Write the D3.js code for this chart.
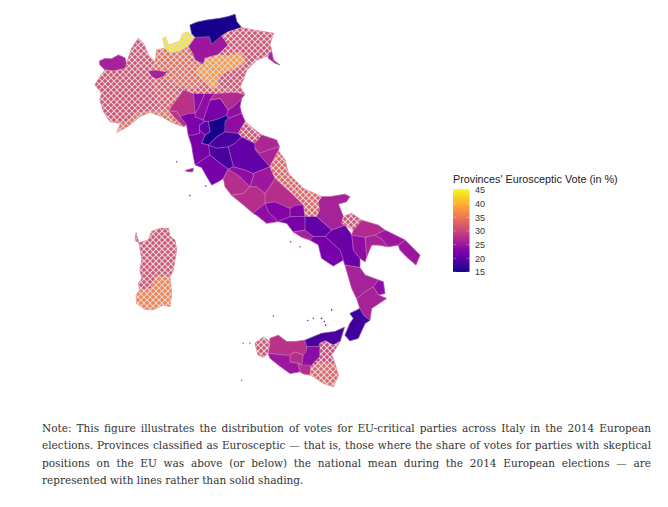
<!DOCTYPE html>
<html>
<head>
<meta charset="utf-8">
<script src="https://cdn.jsdelivr.net/npm/d3@7"></script>
<style>
  html, body { margin: 0; padding: 0; background: #fff; }
</style>
</head>
<body>
<div id="chart"></div>
<script>
// province names, vote share in % and eurosceptic flag, same order as the outlines
var provinceNames = ["Aosta","Torino","Liguria","Sondrio","Bergamo","Milano","Pavia-Cremona","Verona-Padova","Trento","Bolzano","Belluno-Udine","Trieste",
  "Parma","La Spezia","Reggio Emilia","Modena","Bologna","Ravenna","Forli","Pesaro","Firenze","Prato","Lucca","Pisa-Grosseto","Arezzo","Perugia","Ancona","Macerata","Ascoli","Terni-Rieti",
  "Viterbo","Roma","Tivoli","L'Aquila","Abruzzo","Teramo","Lazio Sud","Latina","Isernia","Benevento","Caserta","Napoli","Avellino","Salerno","Potenza",
  "Foggia","Barletta","Bari","Matera","Taranto Ovest","Taranto","Lecce","Cosenza","Crotone","Catanzaro","Reggio Calabria",
  "Trapani","Palermo","Agrigento","Caltanissetta","Ragusa","Messina","Enna","Catania","Siracusa","Sassari","Cagliari","Elba"];

var provinceVotes = [26,31,34,44,34,26,32,38,25,15.5,31,26,
  28,28,23.5,24,22,27,24,24,15.5,20,22.5,22,18.5,18.5,31,26.5,26,20.5,
  22,27.5,24,25,33,27.5,27.5,24,23,23,22,26,20.5,22,21,
  26,31,27,24,26,25,25,26,24,26,18,
  31,28,25,27.5,27.5,18.5,23.5,30,33,31,36,25];

var hatchedProvinces = ["Torino","Liguria","Sondrio","Bergamo","Pavia-Cremona","Verona-Padova","Belluno-Udine","Ancona","Abruzzo","Barletta","Trapani","Catania","Siracusa","Sassari","Cagliari"];

// outlines as [lon, lat]
var provinceOutlines = [
  [[6.79,45.77],[7.00,45.84],[7.24,45.83],[7.49,45.94],[7.73,45.86],[7.79,45.70],[7.73,45.56],[7.30,45.49],[7.00,45.52],[6.81,45.66]],
  [[7.79,45.70],[7.98,46.13],[8.22,46.41],[8.41,46.27],[8.59,45.94],[8.84,45.75],[8.59,45.49],[8.71,45.33],[8.77,45.24],[8.90,44.82],[9.08,44.37],[8.53,44.35],[8.16,44.30],[7.92,44.11],[7.57,44.02],[7.18,44.07],[6.94,44.35],[6.81,44.67],[6.87,44.86],[6.63,45.10],[6.81,45.33],[7.00,45.52],[7.30,45.49],[7.73,45.56]],
  [[7.43,43.76],[7.57,44.02],[7.92,44.11],[8.16,44.30],[8.53,44.35],[9.08,44.37],[9.33,44.37],[9.57,44.16],[9.88,43.93],[9.51,44.02],[9.08,44.21],[8.65,44.33],[8.28,44.21],[7.92,43.97]],
  [[9.11,46.41],[9.24,46.45],[9.33,46.22],[9.75,46.33],[9.85,46.55],[10.06,46.58],[10.31,46.43],[10.06,46.17],[9.69,46.03],[9.39,45.99],[9.20,46.13]],
  [[8.84,45.75],[8.90,46.08],[9.20,46.13],[9.39,45.99],[9.69,46.03],[10.06,46.17],[10.22,45.99],[10.31,45.80],[10.61,45.68],[10.43,45.61],[10.37,45.42],[10.67,45.24],[10.25,45.00],[9.63,45.10],[9.33,45.19],[9.14,45.33],[9.33,45.52],[9.20,45.47],[8.84,45.52],[8.59,45.49]],
  [[8.59,45.49],[8.84,45.52],[9.20,45.47],[9.33,45.52],[9.14,45.33],[8.90,45.26],[8.71,45.33]],
  [[8.71,45.33],[8.90,45.26],[9.14,45.33],[9.33,45.19],[9.63,45.10],[10.25,45.00],[10.67,45.24],[10.92,45.02],[11.16,45.05],[12.14,44.83],[11.84,44.89],[11.04,44.86],[10.67,44.86],[10.25,44.86],[9.88,44.96],[9.33,44.37],[9.08,44.37],[8.90,44.82],[8.77,45.24]],
  [[10.43,45.61],[10.61,45.68],[10.67,45.85],[11.16,45.95],[11.53,45.92],[11.96,46.03],[12.18,45.75],[11.84,45.56],[11.47,45.47],[11.16,45.33],[11.16,45.05],[10.92,45.02],[10.67,45.24],[10.37,45.42]],
  [[10.31,46.43],[10.83,46.45],[10.92,46.24],[11.29,46.48],[11.53,46.22],[11.16,45.95],[10.67,45.85],[10.61,45.68],[10.31,45.80],[10.22,45.99],[10.06,46.17]],
  [[10.12,46.78],[10.37,46.86],[10.74,46.92],[11.23,46.97],[11.53,47.02],[11.78,47.08],[11.84,46.88],[12.02,46.71],[11.53,46.59],[11.29,46.48],[10.92,46.24],[10.83,46.45],[10.31,46.43],[10.18,46.55]],
  [[11.53,46.22],[11.29,46.48],[11.53,46.59],[12.02,46.71],[12.45,46.64],[13.19,46.55],[13.06,46.24],[13.12,46.08],[13.06,45.94],[12.57,45.80],[12.21,45.52],[12.08,45.24],[11.96,45.05],[12.14,44.83],[11.16,45.05],[11.16,45.33],[11.47,45.47],[11.84,45.56],[12.18,45.75],[11.96,46.03],[11.53,45.92],[11.16,45.95]],
  [[13.00,45.96],[13.12,46.05],[13.19,45.80],[13.43,45.66],[13.25,45.71],[13.00,45.85]],
  [[9.88,44.96],[10.25,44.86],[10.31,44.30],[10.06,44.30],[9.76,44.21],[9.63,44.35],[9.33,44.37]],
  [[9.33,44.37],[9.63,44.35],[9.76,44.21],[10.00,43.97],[9.88,43.93],[9.57,44.16]],
  [[10.25,44.86],[10.67,44.86],[10.43,44.44],[10.31,44.30]],
  [[10.67,44.86],[11.04,44.86],[10.86,44.67],[10.61,44.11],[10.31,44.20],[10.31,44.30],[10.43,44.44]],
  [[10.86,44.67],[11.23,44.72],[11.53,44.39],[11.47,44.25],[11.10,44.13],[10.80,44.07],[10.67,44.07],[10.61,44.11]],
  [[11.04,44.86],[11.84,44.89],[12.14,44.83],[12.02,44.72],[11.78,44.53],[11.53,44.39],[11.23,44.72],[10.86,44.67]],
  [[11.53,44.39],[11.78,44.53],[12.02,44.72],[11.96,44.49],[12.02,44.30],[11.53,44.16],[11.47,44.25]],
  [[11.53,44.16],[12.02,44.30],[12.15,44.07],[11.90,43.74],[11.41,43.78],[11.41,44.07]],
  [[11.10,44.13],[11.47,44.25],[11.53,44.16],[11.41,44.07],[11.41,43.78],[11.10,43.64],[10.80,43.41],[10.55,43.46],[10.67,43.69],[10.86,43.78],[10.80,44.07]],
  [[10.47,43.97],[10.67,44.07],[10.80,44.07],[10.86,43.78],[10.67,43.69],[10.47,43.83]],
  [[9.76,44.21],[10.06,44.30],[10.31,44.30],[10.31,44.20],[10.61,44.11],[10.67,44.07],[10.47,43.97],[10.47,43.83],[10.47,43.74],[10.25,43.69],[10.06,43.69],[10.00,43.97]],
  [[10.06,43.69],[10.25,43.69],[10.47,43.74],[10.47,43.83],[10.67,43.69],[10.55,43.46],[10.80,43.41],[10.86,43.13],[10.67,43.04],[10.31,42.85],[10.25,43.08],[10.18,43.41]],
  [[11.41,43.78],[11.90,43.74],[12.02,43.64],[11.78,43.46],[11.53,43.36],[11.10,43.32],[10.80,43.41],[11.10,43.64]],
  [[10.80,43.41],[11.10,43.32],[11.53,43.36],[11.72,42.80],[11.53,42.73],[11.16,42.94],[10.86,43.13]],
  [[12.15,44.07],[12.51,43.83],[12.76,43.69],[12.51,43.46],[12.02,43.64],[11.90,43.74]],
  [[12.76,43.69],[13.31,43.55],[13.41,43.36],[13.00,43.27],[12.70,43.18],[12.51,43.32],[12.51,43.46]],
  [[12.51,43.32],[12.70,43.18],[13.00,43.27],[13.41,43.36],[13.37,43.25],[13.06,42.80],[12.57,43.22]],
  [[12.02,43.64],[12.51,43.46],[12.51,43.32],[12.57,43.22],[13.06,42.80],[12.45,42.61],[12.14,42.71],[11.72,42.80],[11.53,43.36],[11.78,43.46]],
  [[10.67,43.04],[10.86,43.13],[11.16,42.94],[11.53,42.73],[11.35,42.47],[11.16,42.38],[10.92,42.29],[10.74,42.52],[10.55,42.78],[10.31,42.85]],
  [[11.35,42.47],[11.53,42.73],[11.96,42.52],[12.33,42.24],[12.08,42.05],[11.65,42.00],[11.41,42.24]],
  [[11.53,42.73],[11.72,42.80],[12.14,42.71],[12.45,42.61],[12.45,42.52],[12.33,42.24],[11.96,42.52]],
  [[12.45,42.61],[13.06,42.80],[13.25,42.47],[13.06,42.24],[12.88,42.05],[12.57,42.24],[12.33,42.24],[12.45,42.52]],
  [[13.37,43.25],[13.62,42.99],[13.74,42.61],[14.29,42.19],[14.96,41.96],[14.84,41.82],[14.88,41.58],[14.78,41.40],[14.35,41.40],[14.29,41.73],[13.92,42.01],[13.25,42.47],[13.06,42.80]],
  [[13.25,42.47],[13.92,42.01],[14.29,41.73],[13.98,41.72],[13.80,41.63],[13.25,41.82],[12.88,41.77],[12.88,42.05],[13.06,42.24]],
  [[12.33,42.24],[12.57,42.24],[12.88,42.05],[12.88,41.77],[12.57,41.58],[12.45,41.49],[12.08,41.73],[11.65,42.00],[12.08,42.05]],
  [[12.57,41.58],[12.88,41.77],[13.00,41.53],[13.37,41.26],[12.94,41.21],[12.57,41.44],[12.45,41.49]],
  [[12.88,41.77],[13.25,41.82],[13.80,41.63],[13.80,41.40],[13.37,41.26],[13.00,41.53]],
  [[13.80,41.63],[13.98,41.72],[14.29,41.73],[14.35,41.40],[13.80,41.40]],
  [[13.37,41.26],[13.80,41.40],[14.35,41.40],[14.35,41.02],[13.92,40.97],[13.68,41.21]],
  [[13.92,40.97],[14.35,41.02],[14.66,40.84],[14.53,40.74],[14.23,40.82]],
  [[14.35,41.40],[14.78,41.40],[15.21,41.11],[15.33,41.02],[15.09,40.84],[14.66,40.84],[14.35,41.02]],
  [[14.66,40.84],[15.09,40.84],[15.64,40.46],[15.76,40.18],[15.39,40.01],[14.96,40.23],[14.84,40.61],[14.53,40.74]],
  [[15.33,41.02],[15.82,41.16],[16.07,40.88],[16.13,40.46],[16.37,40.23],[16.37,39.97],[15.82,40.04],[15.76,40.18],[15.64,40.46],[15.09,40.84]],
  [[14.96,41.96],[15.27,41.96],[15.82,42.03],[16.00,41.96],[15.88,41.82],[15.58,41.75],[15.76,41.40],[15.70,41.21],[15.82,41.16],[15.33,41.02],[15.21,41.11],[14.78,41.40],[14.88,41.58],[14.84,41.82]],
  [[15.76,41.40],[16.07,41.49],[16.43,41.30],[16.13,41.02],[15.82,41.16],[15.70,41.21]],
  [[16.43,41.30],[17.05,41.16],[17.29,41.02],[16.92,40.88],[16.56,40.82],[16.07,40.88],[16.13,41.02]],
  [[16.07,40.88],[16.56,40.82],[16.62,40.27],[16.56,40.13],[16.37,40.23],[16.13,40.46]],
  [[16.56,40.82],[16.92,40.88],[17.17,40.77],[17.41,40.55],[17.05,40.60],[16.80,40.60],[16.62,40.27]],
  [[17.29,41.02],[18.03,40.74],[17.78,40.60],[17.41,40.55],[17.17,40.77],[16.92,40.88]],
  [[17.78,40.60],[18.03,40.74],[18.58,40.32],[18.43,40.04],[18.08,40.27],[17.84,40.46]],
  [[15.82,40.04],[16.37,39.97],[16.56,39.76],[17.05,39.62],[16.86,39.43],[16.56,39.29],[16.25,39.10],[16.07,39.38]],
  [[17.05,39.62],[17.23,39.57],[17.29,39.24],[17.05,39.20],[16.86,39.43]],
  [[16.25,39.10],[16.56,39.29],[16.86,39.43],[17.05,39.20],[17.35,39.10],[17.17,39.01],[16.80,38.82],[16.74,38.49],[16.50,38.63],[16.37,38.82]],
  [[16.37,38.82],[16.50,38.63],[16.74,38.49],[16.56,38.40],[16.31,37.98],[16.00,37.91],[15.82,38.07],[16.00,38.40],[16.13,38.54],[16.00,38.68]],
  [[12.51,37.84],[12.82,38.01],[13.06,37.89],[13.00,37.56],[12.82,37.45],[12.63,37.51]],
  [[13.06,37.89],[13.06,37.98],[13.37,38.07],[13.68,37.89],[13.98,37.89],[14.35,37.93],[14.41,37.75],[14.41,37.65],[14.29,37.51],[13.98,37.60],[13.80,37.51],[13.62,37.51],[13.00,37.56]],
  [[13.00,37.56],[13.62,37.51],[13.80,37.51],[13.80,37.32],[14.10,37.28],[14.17,37.04],[13.80,36.99],[13.37,37.23],[13.06,37.42]],
  [[13.80,37.51],[13.98,37.60],[14.29,37.51],[14.23,37.23],[14.10,37.28],[13.80,37.32]],
  [[14.23,37.23],[14.53,37.23],[14.57,37.18],[14.53,36.95],[14.29,36.98],[14.17,37.04],[14.10,37.28]],
  [[14.35,37.93],[14.96,38.12],[15.45,38.17],[15.80,38.29],[15.64,37.89],[15.39,37.79],[15.09,37.91],[14.90,37.84],[14.84,37.75],[14.41,37.75]],
  [[14.41,37.75],[14.84,37.75],[14.90,37.84],[14.90,37.46],[14.66,37.28],[14.57,37.18],[14.53,37.23],[14.23,37.23],[14.29,37.51],[14.41,37.65]],
  [[14.90,37.84],[15.09,37.91],[15.39,37.79],[15.64,37.89],[15.33,37.51],[15.45,37.28],[14.96,37.28],[14.57,37.18],[14.66,37.28],[14.90,37.46]],
  [[14.57,37.18],[14.96,37.28],[15.45,37.28],[15.58,36.95],[15.39,36.62],[15.02,36.72],[14.66,36.90],[14.53,36.95]],
  [[8.14,40.95],[8.10,40.72],[8.28,40.67],[8.59,40.74],[8.71,40.98],[9.02,41.07],[9.33,41.07],[9.39,40.84],[9.57,40.74],[9.63,40.46],[9.57,40.18],[9.51,39.90],[9.39,39.71],[8.84,39.71],[8.71,39.38],[8.28,39.34],[8.22,39.52],[8.35,39.66],[8.28,39.90],[8.35,40.18],[8.28,40.55]],
  [[8.84,39.71],[9.39,39.71],[9.45,39.24],[9.39,38.87],[9.14,38.92],[8.77,38.78],[8.47,38.79],[8.16,38.96],[8.14,39.20],[8.28,39.34],[8.71,39.38]],
  [[9.94,42.69],[10.10,42.73],[10.25,42.76],[10.22,42.66],[10.05,42.66]]
];

// very small islands: lon, lat, vote
var islandLons = [9.63,10.12,10.70,13.82,14.17,12.02,13.19,14.45,14.66,14.96,15.06,15.11,15.33,12.08,12.33];
var islandLats = [42.94,41.99,42.26,40.69,40.55,36.80,38.61,38.48,38.54,38.54,38.45,38.35,38.78,37.84,37.84];
var islandVotes = [26,24,24,27,28,31,30,26,26,24,24,24,24,31,31];

var legendTicks = [15,20,25,30,35,40,45];
var legendTitle = "Provinces' Eurosceptic Vote (in %)";
var noteLines = [
  "Note: This figure illustrates the distribution of votes for EU-critical parties across Italy in the 2014 European",
  "elections. Provinces classified as Eurosceptic \u2014 that is, those where the share of votes for parties with skeptical",
  "positions on the EU was above (or below) the national mean during the 2014 European elections \u2014 are",
  "represented with lines rather than solid shading."
];

var width = 668, height = 507;
var svg = d3.select('#chart').append('svg')
    .attr('width', width)
    .attr('height', height)
    .style('display', 'block');

var lonScale = d3.scaleLinear().domain([6.63, 18.52]).range([95, 418.4]);
var latScale = d3.scaleLinear().domain([47.09, 36.65]).range([14, 385.7]);
var color = d3.scaleSequential(d3.interpolatePlasma).domain([15, 45]);

var line = d3.line()
    .x(function(d){ return lonScale(d[0]); })
    .y(function(d){ return latScale(d[1]); })
    .curve(d3.curveLinearClosed);

var defs = svg.append('defs');

defs.append('filter').attr('id', 'soft')
    .append('feGaussianBlur').attr('stdDeviation', 0.4);

var map = svg.append('g').attr('filter', 'url(#soft)');

var provinces = provinceNames.map(function(name, i){
    return {name: name, vote: provinceVotes[i], outline: provinceOutlines[i]};
});
var hatchedData = provinces.filter(function(d){ return hatchedProvinces.indexOf(d.name) >= 0; });

map.append('g').selectAll('path')
    .data(provinces)
    .enter()
    .append('path')
    .attr('d', function(d){ return line(d.outline); })
    .attr('fill', function(d){ return color(d.vote); })
    .attr('stroke', function(d){ return color(d.vote); })
    .attr('stroke-width', 0.6);

// crosshatch over the eurosceptic provinces: diagonal lines clipped to their outlines
defs.append('clipPath').attr('id', 'hatchClip')
    .selectAll('path')
    .data(hatchedData)
    .enter()
    .append('path')
    .attr('d', function(d){ return line(d.outline); });

var hatchStep = 6;
var hatchOffsets = d3.range(-height, width + height, hatchStep);
var hatchGroup = map.append('g').attr('clip-path', 'url(#hatchClip)');
hatchGroup.selectAll('line.down')
    .data(hatchOffsets)
    .enter()
    .append('line')
    .attr('class', 'down')
    .attr('x1', function(d){ return d; }).attr('y1', 0)
    .attr('x2', function(d){ return d + height; }).attr('y2', height);
hatchGroup.selectAll('line.up')
    .data(hatchOffsets)
    .enter()
    .append('line')
    .attr('class', 'up')
    .attr('x1', function(d){ return d; }).attr('y1', 0)
    .attr('x2', function(d){ return d - height; }).attr('y2', height);
hatchGroup.selectAll('line')
    .attr('stroke', '#ded6da')
    .attr('stroke-width', 1.2);

map.append('g').selectAll('path')
    .data(provinces)
    .enter()
    .append('path')
    .attr('d', function(d){ return line(d.outline); })
    .attr('fill', 'none')
    .attr('stroke', '#d9b8cf')
    .attr('stroke-opacity', 0.5)
    .attr('stroke-width', 0.45);

map.append('g').selectAll('circle')
    .data(islandLons)
    .enter()
    .append('circle')
    .attr('cx', function(d){ return lonScale(d); })
    .attr('cy', function(d, i){ return latScale(islandLats[i]); })
    .attr('r', 0.8)
    .attr('fill', function(d, i){ return color(islandVotes[i]); });

// colour bar legend
var barY = d3.scaleLinear().domain([45, 15]).range([190, 272]);
var grad = defs.append('linearGradient')
    .attr('id', 'bar')
    .attr('x1', 0).attr('x2', 0).attr('y1', 1).attr('y2', 0);
grad.selectAll('stop')
    .data(d3.range(15, 45.5, 1))
    .enter()
    .append('stop')
    .attr('offset', function(d){ return (d - 15) / 30; })
    .attr('stop-color', function(d){ return color(d); });

var legend = svg.append('g');
legend.append('text')
    .attr('x', 453)
    .attr('y', 183)
    .style('font-family', '"Liberation Sans", Arial, sans-serif')
    .style('font-size', '10.8px')
    .attr('fill', '#222')
    .text(legendTitle);

legend.append('rect')
    .attr('x', 453)
    .attr('y', barY(45) - 1)
    .attr('width', 16.5)
    .attr('height', barY(15) - barY(45) + 1)
    .attr('fill', 'url(#bar)');

legend.selectAll('line.tick')
    .data(legendTicks)
    .enter()
    .append('path')
    .attr('d', function(d){
        var y = barY(d);
        return 'M453,' + y + 'h3.3M466.2,' + y + 'h3.3';
    })
    .attr('stroke', '#fff')
    .attr('stroke-opacity', 0.6)
    .attr('stroke-width', 0.5);

legend.selectAll('text.tick')
    .data(legendTicks)
    .enter()
    .append('text')
    .attr('class', 'tick')
    .attr('x', 475)
    .attr('y', function(d){ return barY(d) + 3.2; })
    .style('font-family', '"Liberation Sans", Arial, sans-serif')
    .style('font-size', '9px')
    .attr('fill', '#333')
    .text(function(d){ return d; });

// note, justified by hand except the last line
var noteLeft = 42, noteRight = 651;
var note = svg.append('g');
note.selectAll('text')
    .data(noteLines)
    .enter()
    .append('text')
    .attr('x', noteLeft)
    .attr('y', function(d, i){ return 431.5 + i * 17.5; })
    .style('font-family', '"DejaVu Serif Condensed", "DejaVu Serif", serif')
    .style('font-size', '11.7px')
    .attr('fill', '#333')
    .text(function(d){ return d; })
    .each(function(d, i){
        if(i == noteLines.length - 1){ return; }
        var spaces = d.split(' ').length - 1;
        var extra = (noteRight - noteLeft - this.getComputedTextLength()) / spaces;
        d3.select(this).style('word-spacing', extra + 'px');
    });
</script>
</body>
</html>
